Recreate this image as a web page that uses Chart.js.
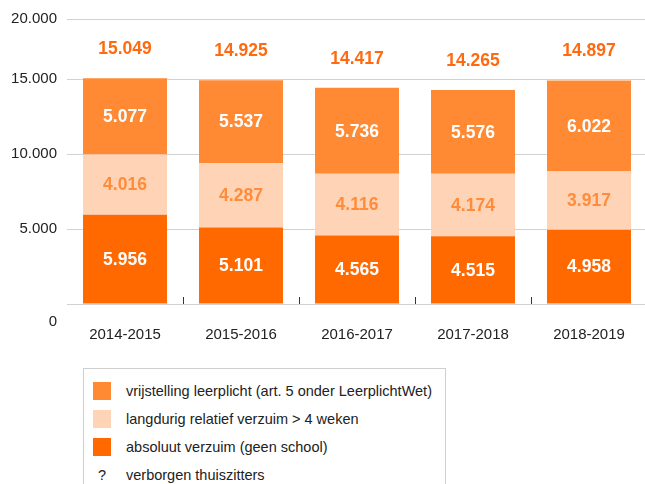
<!DOCTYPE html>
<html>
<head>
<meta charset="utf-8">
<script src="https://cdn.jsdelivr.net/npm/chart.js@4"></script>
<style>
  html, body { margin: 0; padding: 0; background: #fff; }
  #wrap { position: relative; width: 645px; height: 484px; overflow: hidden; }
  #chartBox { position: absolute; left: 0; top: 0; width: 647px; height: 366px; }
  #legend { position: absolute; left: 83px; top: 368px; width: 363px; height: 140px;
            border: 1px solid #cfcfcf; box-sizing: border-box;
            font-family: "Liberation Sans", Arial, sans-serif; font-size: 14.5px; color: #222; }
  .li { position: absolute; left: 0; height: 18px; width: 100%; }
  .sw { position: absolute; left: 9px; top: 0; width: 18px; height: 18px; }
  .q  { position: absolute; left: 9px; top: 0; width: 18px; line-height: 18px; text-align: center; }
  .tx { position: absolute; left: 42px; top: 0; line-height: 18px; white-space: nowrap; }
</style>
</head>
<body>
<div id="wrap">
  <div id="chartBox"><canvas id="c"></canvas></div>
  <div id="legend"></div>
</div>
<script>
// ---- data ----
const categories = ['2014-2015', '2015-2016', '2016-2017', '2017-2018', '2018-2019'];
const absoluutVerzuim = [5956, 5101, 4565, 4515, 4958];
const langdurigVerzuim = [4016, 4287, 4116, 4174, 3917];
const vrijstelling = [5077, 5537, 5736, 5576, 6022];
const seriesNames = ['absoluut verzuim (geen school)', 'langdurig relatief verzuim > 4 weken', 'vrijstelling leerplicht (art. 5 onder LeerplichtWet)'];
const hiddenItem = ['?', 'verborgen thuiszitters'];
const yTickValues = [0, 5000, 10000, 15000, 19000];
const yTickLabels = ['0', '5.000', '10.000', '15.000', '20.000'];

// ---- styles ----
const colors = ['#FF6900', '#FFD3B6', '#FF8A33'];
const labelColors = ['#FFFFFF', '#FF8C3A', '#FFFFFF'];
const totalColor = '#FF6A10';
const FONT = '"Liberation Sans", Arial, sans-serif';

function fmt(n) { return String(n).replace(/\B(?=(\d{3})+(?!\d))/g, '.'); }

const seriesData = [absoluutVerzuim, langdurigVerzuim, vrijstelling];
const datasets = seriesData.map((d, i) => ({
  label: seriesNames[i], data: d, backgroundColor: colors[i], borderWidth: 0,
  barPercentage: 0.724, categoryPercentage: 1.0, stack: 's'
}));

const labelPlugin = {
  id: 'labels',
  afterDatasetsDraw(chart) {
    const ctx = chart.ctx;
    ctx.save();
    ctx.textAlign = 'center';
    ctx.textBaseline = 'middle';
    ctx.font = 'bold 17.5px ' + FONT;
    chart.data.datasets.forEach((ds, i) => {
      const meta = chart.getDatasetMeta(i);
      meta.data.forEach((el, j) => {
        const p = el.getProps(['x', 'y', 'base'], true);
        ctx.fillStyle = labelColors[i];
        ctx.fillText(fmt(ds.data[j]), p.x, (p.y + p.base) / 2 + 1);
      });
    });
    const last = chart.getDatasetMeta(chart.data.datasets.length - 1);
    last.data.forEach((el, j) => {
      const p = el.getProps(['x', 'y'], true);
      const total = seriesData.reduce((s, arr) => s + arr[j], 0);
      ctx.fillStyle = totalColor;
      ctx.fillText(fmt(total), p.x, p.y - 29);
    });
    // inner tick marks between categories
    const xs = chart.scales.x, ca = chart.chartArea;
    ctx.strokeStyle = '#333';
    ctx.lineWidth = 1;
    for (let i = 1; i < categories.length; i++) {
      const bx = Math.round((xs.getPixelForValue(i - 1) + xs.getPixelForValue(i)) / 2) + 0.5;
      ctx.beginPath();
      ctx.moveTo(bx, ca.bottom - 7);
      ctx.lineTo(bx, ca.bottom);
      ctx.stroke();
    }
    ctx.restore();
  }
};

new Chart(document.getElementById('c'), {
  type: 'bar',
  data: { labels: categories, datasets },
  options: {
    responsive: true, maintainAspectRatio: false, animation: false,
    layout: { padding: { top: 18, left: 0, right: 0, bottom: 0 } },
    plugins: { legend: { display: false }, tooltip: { enabled: false } },
    scales: {
      x: {
        stacked: true,
        grid: { display: false, drawTicks: false },
        border: { display: false },
        ticks: { color: '#222', font: { family: FONT, size: 15 }, padding: 22 }
      },
      y: {
        stacked: true, min: 0, max: 19000,
        afterBuildTicks(scale) { scale.ticks = yTickValues.map(v => ({ value: v })); },
        afterFit(scale) { scale.width = 67; },
        grid: { color: '#d2d2d2', lineWidth: 1, drawTicks: false },
        border: { display: false },
        ticks: {
          color: '#222', font: { family: FONT, size: 15 }, padding: 10,
          callback(v, idx) { return idx === 0 ? ['', '', yTickLabels[0]] : yTickLabels[idx]; }
        }
      }
    }
  },
  plugins: [labelPlugin]
});

// ---- legend (HTML, built from the series) ----
const legend = document.getElementById('legend');
const order = [2, 1, 0];
order.forEach((si, k) => {
  const row = document.createElement('div');
  row.className = 'li';
  row.style.top = (13 + k * 28) + 'px';
  row.innerHTML = '<div class="sw" style="background:' + colors[si] + '"></div><div class="tx"></div>';
  row.querySelector('.tx').textContent = seriesNames[si];
  legend.appendChild(row);
});
const qrow = document.createElement('div');
qrow.className = 'li';
qrow.style.top = (13 + 3 * 28) + 'px';
qrow.innerHTML = '<div class="q"></div><div class="tx"></div>';
qrow.querySelector('.q').textContent = hiddenItem[0];
qrow.querySelector('.tx').textContent = hiddenItem[1];
legend.appendChild(qrow);
</script>
</body>
</html>
